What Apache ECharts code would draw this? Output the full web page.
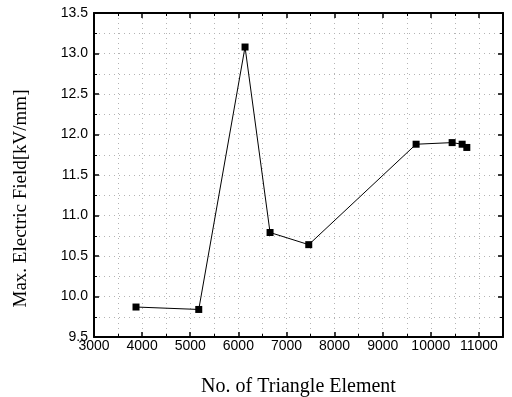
<!DOCTYPE html>
<html><head><meta charset="utf-8">
<script src="https://cdn.jsdelivr.net/npm/echarts@6/dist/echarts.min.js"></script>
<style>html,body{margin:0;padding:0;background:#fff}#c{width:512px;height:397px}</style>
</head><body><div id="c"></div>
<script>
const elements = [3873, 5177, 6139, 6659, 7463, 9694, 10443, 10651, 10748];
const maxField = [9.87, 9.84, 13.08, 10.79, 10.64, 11.88, 11.90, 11.88, 11.84];
const xTitle = 'No. of Triangle Element';
const yTitle = 'Max. Electric Field[kV/mm]';

const chart = echarts.init(document.getElementById('c'));
const gridLine = {show: true, lineStyle: {color: '#b4b4b4', width: 1, type: [1, 4]}};
const frame = {show: true, onZero: false, lineStyle: {color: '#000', width: 2}};
chart.setOption({
  animation: false,
  backgroundColor: '#fff',
  grid: {left: 94, right: 9, top: 13, bottom: 60, outerBoundsMode: 'none', containLabel: false},
  xAxis: [{
    type: 'value', min: 3000, max: 11500, interval: 1000,
    axisLine: frame,
    axisTick: {show: true, inside: true, length: 5, lineStyle: {color: '#000', width: 1.5}},
    minorTick: {show: true, splitNumber: 2, length: 3, lineStyle: {color: '#000', width: 1}},
    axisLabel: {margin: 2, color: '#000', fontFamily: 'Liberation Sans', fontSize: 14,
      formatter: v => v > 11000 ? '' : String(v)},
    splitLine: gridLine,
    minorSplitLine: gridLine,
    name: xTitle, nameLocation: 'middle', nameGap: 40,
    nameTextStyle: {fontFamily: 'Liberation Serif', fontSize: 20, color: '#000'}
  }, {
    type: 'value', position: 'top', min: 3000, max: 11500, interval: 1000,
    axisLine: frame,
    axisTick: {show: true, inside: true, length: 5, lineStyle: {color: '#000', width: 1.5}},
    minorTick: {show: true, splitNumber: 2, length: 3, lineStyle: {color: '#000', width: 1}},
    axisLabel: {show: false}, splitLine: {show: false}
  }],
  yAxis: [{
    type: 'value', min: 9.5, max: 13.5, interval: 0.5,
    axisLine: frame,
    axisTick: {show: true, inside: true, length: 5, lineStyle: {color: '#000', width: 1.5}},
    minorTick: {show: true, splitNumber: 2, length: 3, lineStyle: {color: '#000', width: 1}},
    axisLabel: {margin: 6, color: '#000', fontFamily: 'Liberation Sans', fontSize: 14,
      formatter: v => v.toFixed(1)},
    splitLine: gridLine,
    minorSplitLine: gridLine
  }, {
    type: 'value', position: 'right', min: 9.5, max: 13.5, interval: 0.5,
    axisLine: frame,
    axisTick: {show: true, inside: true, length: 5, lineStyle: {color: '#000', width: 1.5}},
    minorTick: {show: true, splitNumber: 2, length: 3, lineStyle: {color: '#000', width: 1}},
    axisLabel: {show: false}, splitLine: {show: false}
  }],
  graphic: [{
    type: 'text', left: 12, top: 'middle', rotation: Math.PI / 2,
    x: 0, y: 18,
    style: {text: yTitle, fontFamily: 'Liberation Serif', fontSize: 19, fill: '#000'}
  }],
  series: [{
    type: 'line',
    data: elements.map((x, i) => [x, maxField[i]]),
    symbol: 'rect', symbolSize: 7, showSymbol: true,
    lineStyle: {color: '#000', width: 1},
    itemStyle: {color: '#000'}
  }]
});
</script></body></html>
